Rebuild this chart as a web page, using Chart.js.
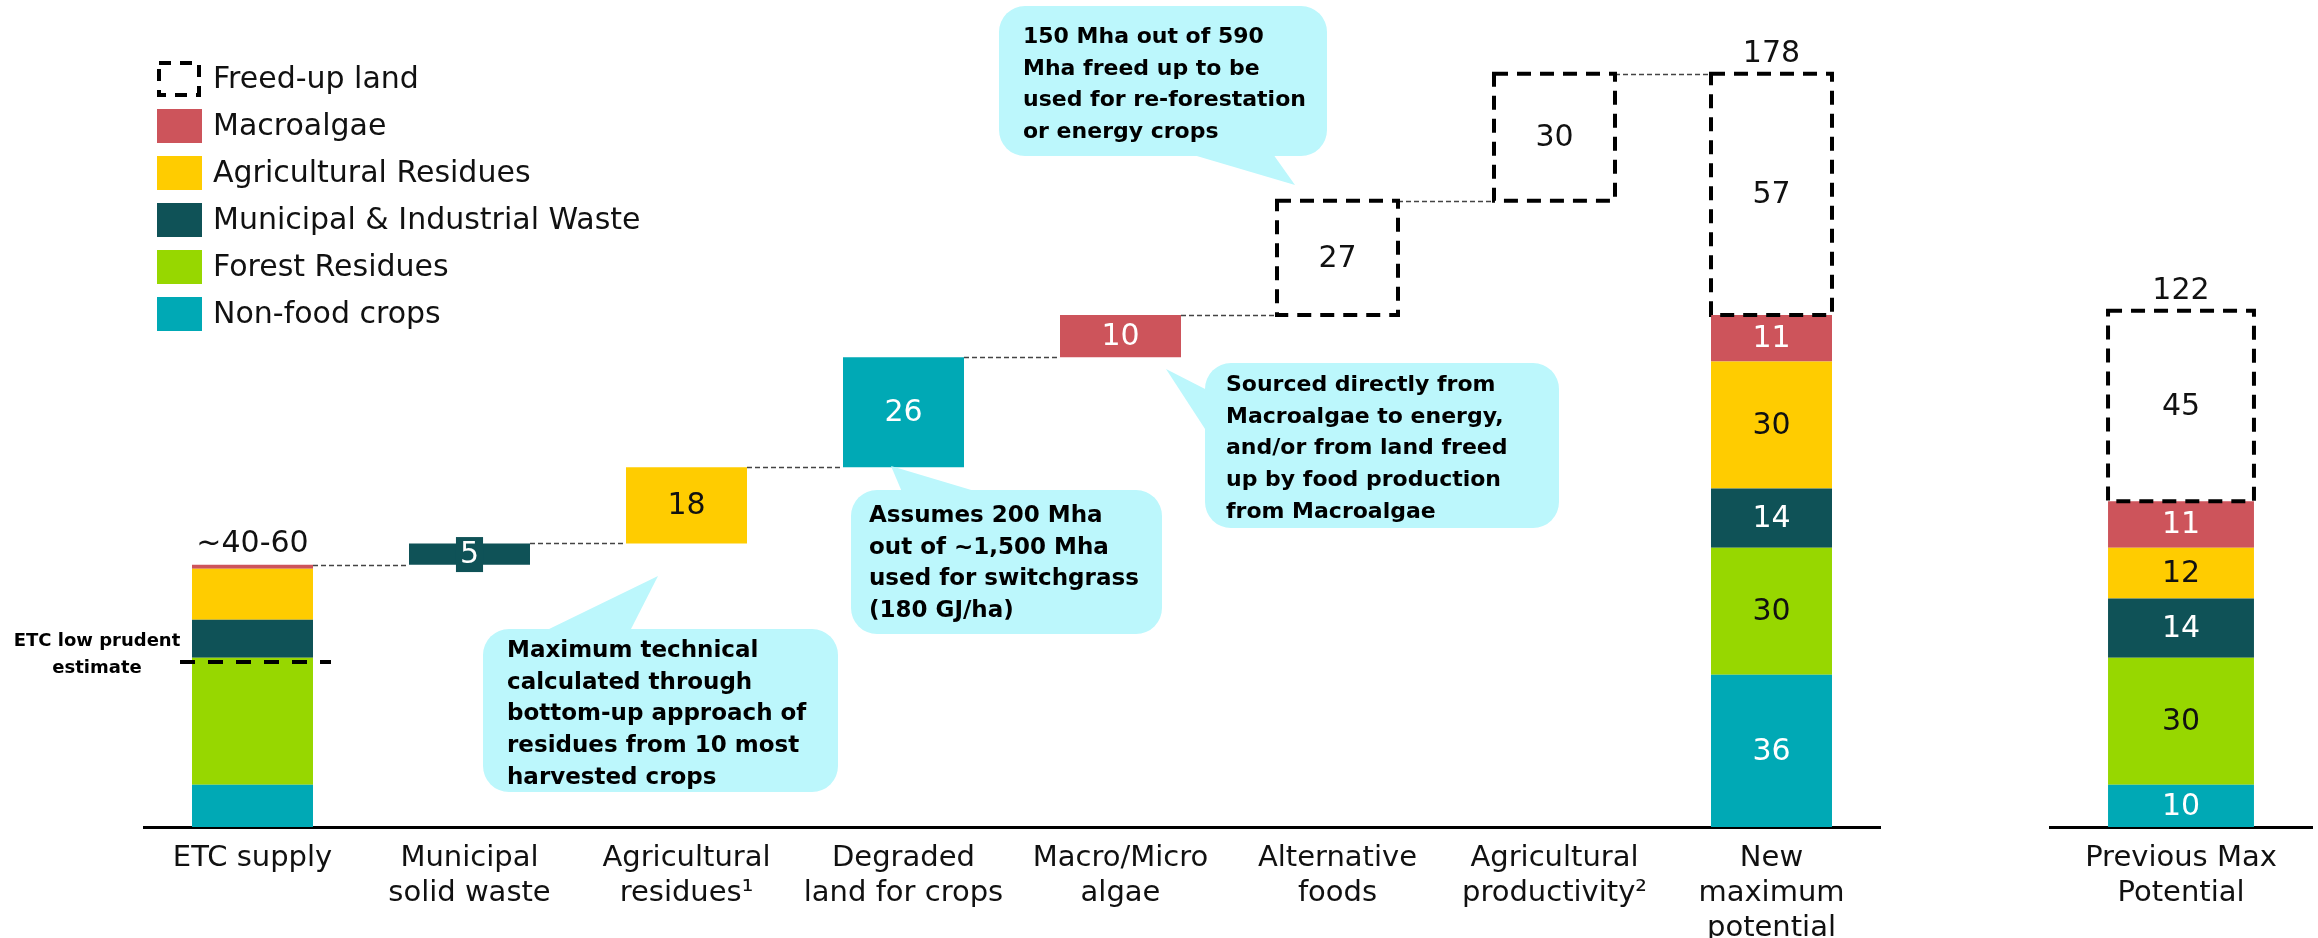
<!DOCTYPE html>
<html>
<head>
<meta charset="utf-8">
<script src="https://cdn.jsdelivr.net/npm/chart.js@4.4.1/dist/chart.umd.min.js"></script>
<style>
  html, body { margin: 0; padding: 0; background: #fff; }
  #wrap { position: relative; width: 2318px; height: 938px; overflow: hidden; }
  #main { position: absolute; left: 0; top: 0; }
  #prev { position: absolute; left: 1960px; top: 0; }
</style>
</head>
<body>
<div id="wrap">
  <canvas id="main" width="1960" height="938"></canvas>
  <canvas id="prev" width="358" height="938"></canvas>
</div>
<script>
// ---- data (EJ/yr) ----
const categories = [
  ['ETC supply'],
  ['Municipal', 'solid waste'],
  ['Agricultural', 'residues\u00B9'],
  ['Degraded', 'land for crops'],
  ['Macro/Micro', 'algae'],
  ['Alternative', 'foods'],
  ['Agricultural', 'productivity\u00B2'],
  ['New', 'maximum', 'potential']
];
const isTotal = [true, false, false, false, false, false, false, true];
const showValues = [false, true, true, true, true, true, true, true];

const nonFoodCrops   = [10, 0, 0, 26, 0, 0, 0, 36];
const forestResidues = [30, 0, 0, 0, 0, 0, 0, 30];
const municipalWaste = [9, 5, 0, 0, 0, 0, 0, 14];
const agriResidues   = [12, 0, 18, 0, 0, 0, 0, 30];
const macroalgae     = [1, 0, 0, 0, 10, 0, 0, 11];
const freedUpLand    = [0, 0, 0, 0, 0, 27, 30, 57];

const prevCategories = [['Previous Max', 'Potential']];
const prevNonFood   = [10];
const prevForest    = [30];
const prevMunicipal = [14];
const prevAgri      = [12];
const prevMacro     = [11];
const prevFreed     = [45];

const etcRangeLabel = '~40-60';
const etcLowEstimate = 39;

// ---- styles ----
const FONT = '"DejaVu Sans", sans-serif';
const series = [
  { name: 'Non-food crops', color: '#00A9B5', text: '#fff' },
  { name: 'Forest Residues', color: '#97D700', text: '#111' },
  { name: 'Municipal & Industrial Waste', color: '#0F5257', text: '#fff' },
  { name: 'Agricultural Residues', color: '#FFCC00', text: '#111' },
  { name: 'Macroalgae', color: '#CD545B', text: '#fff' },
  { name: 'Freed-up land', color: 'rgba(0,0,0,0)', text: '#111', dashed: true }
];

// stacked totals start at zero, steps float on the running total
function buildRanges(list, totals) {
  const out = list.map(() => []);
  const tops = [];
  let running = 0;
  for (let i = 0; i < list[0].length; i++) {
    let level = totals[i] ? 0 : running;
    list.forEach((vals, k) => {
      if (vals[i]) { out[k].push([level, level + vals[i]]); level += vals[i]; }
      else out[k].push(null);
    });
    running = level;
    tops.push(level);
  }
  return { ranges: out, tops: tops };
}

const mainBuilt = buildRanges(
  [nonFoodCrops, forestResidues, municipalWaste, agriResidues, macroalgae, freedUpLand], isTotal);
const prevBuilt = buildRanges(
  [prevNonFood, prevForest, prevMunicipal, prevAgri, prevMacro, prevFreed], [true]);

function datasetsFrom(ranges) {
  return ranges.map((d, k) => ({
    label: series[k].name,
    data: d,
    backgroundColor: series[k].color,
    borderWidth: 0,
    textColor: series[k].text,
    dashed: !!series[k].dashed
  }));
}

const callouts = [
  { box: [483, 629, 355, 163], tail: [[545, 631], [658, 576], [630, 631]], tx: 507, ty: 657, size: 23,
    lines: ['Maximum technical', 'calculated through', 'bottom-up approach of', 'residues from 10 most', 'harvested crops'] },
  { box: [851, 490, 311, 144], tail: [[902, 492], [891, 466], [978, 492]], tx: 869, ty: 522, size: 23,
    lines: ['Assumes 200 Mha', 'out of ~1,500 Mha', 'used for switchgrass', '(180 GJ/ha)'] },
  { box: [1205, 363, 354, 165], tail: [[1207, 390], [1166, 369], [1207, 432]], tx: 1226, ty: 391, size: 22,
    lines: ['Sourced directly from', 'Macroalgae to energy,', 'and/or from land freed', 'up by food production', 'from Macroalgae'] },
  { box: [999, 6, 328, 150], tail: [[1190, 154], [1295, 185], [1273, 154]], tx: 1023, ty: 43, size: 22,
    lines: ['150 Mha out of 590', 'Mha freed up to be', 'used for re-forestation', 'or energy crops'] }
];

function roundRect(ctx, x, y, w, h, r) {
  ctx.beginPath();
  ctx.moveTo(x + r, y);
  ctx.arcTo(x + w, y, x + w, y + h, r);
  ctx.arcTo(x + w, y + h, x, y + h, r);
  ctx.arcTo(x, y + h, x, y, r);
  ctx.arcTo(x, y, x + w, y, r);
  ctx.closePath();
}

const marksPlugin = {
  id: 'marks',
  afterDatasetsDraw(chart) {
    const o = chart.options.plugins.marks;
    const ctx = chart.ctx;
    const xs = chart.scales.x, ys = chart.scales.y;
    ctx.save();
    // connectors between steps
    if (o.connect) {
      const half = chart.getDatasetMeta(0).data[0].width / 2;
      ctx.strokeStyle = '#444';
      ctx.lineWidth = 1.5;
      ctx.setLineDash([5, 3]);
      for (let i = 0; i < o.tops.length - 1; i++) {
        const yy = Math.round(ys.getPixelForValue(o.tops[i])) + 0.5;
        ctx.beginPath();
        ctx.moveTo(xs.getPixelForValue(i) + half, yy);
        ctx.lineTo(xs.getPixelForValue(i + 1) - half, yy);
        ctx.stroke();
      }
      ctx.setLineDash([]);
    }
    // value labels and dashed outlines
    chart.data.datasets.forEach((ds, di) => {
      const meta = chart.getDatasetMeta(di);
      meta.data.forEach((el, i) => {
        const raw = ds.data[i];
        if (!raw) return;
        const p = el.getProps(['x', 'y', 'base', 'width'], true);
        if (ds.dashed) {
          ctx.strokeStyle = '#000';
          ctx.lineWidth = 4;
          ctx.setLineDash([14, 9]);
          ctx.strokeRect(p.x - p.width / 2, p.y, p.width, p.base - p.y);
          ctx.setLineDash([]);
        }
        if (!o.showValues[i]) return;
        const txt = String(raw[1] - raw[0]);
        const cy = (p.y + p.base) / 2;
        ctx.font = '30px ' + FONT;
        ctx.textAlign = 'center';
        ctx.textBaseline = 'middle';
        const h = p.base - p.y;
        if (h < 32) {
          const tw = ctx.measureText(txt).width + 8;
          ctx.fillStyle = ds.backgroundColor;
          ctx.fillRect(p.x - tw / 2, cy - 17, tw, 35);
        }
        ctx.fillStyle = ds.textColor;
        ctx.fillText(txt, p.x, cy + 1);
      });
    });
    // totals above stacked columns
    ctx.font = '30px ' + FONT;
    ctx.fillStyle = '#111';
    ctx.textAlign = 'center';
    ctx.textBaseline = 'middle';
    o.totalLabels.forEach((lab, i) => {
      if (!lab) return;
      const top = ys.getPixelForValue(o.tops[i]);
      ctx.fillText(lab, xs.getPixelForValue(i), top - 20);
    });
    ctx.restore();
  }
};

const notesPlugin = {
  id: 'notes',
  afterDraw(chart) {
    const ctx = chart.ctx;
    ctx.save();
    // legend
    const legendOrder = [5, 4, 3, 2, 1, 0];
    legendOrder.forEach((k, n) => {
      const cy = 79 + n * 47;
      if (series[k].dashed) {
        ctx.strokeStyle = '#000';
        ctx.lineWidth = 4;
        ctx.setLineDash([12, 9]);
        ctx.strokeRect(159, cy - 16, 40, 32);
        ctx.setLineDash([]);
      } else {
        ctx.fillStyle = series[k].color;
        ctx.fillRect(157, cy - 17, 45, 34);
      }
      ctx.fillStyle = '#111';
      ctx.font = '30px ' + FONT;
      ctx.textAlign = 'left';
      ctx.textBaseline = 'middle';
      ctx.fillText(series[k].name, 213, cy + 1);
    });
    // ETC low prudent estimate
    const xs = chart.scales.x, ys = chart.scales.y;
    const el = chart.getDatasetMeta(0).data[0];
    const yy = ys.getPixelForValue(etcLowEstimate);
    ctx.strokeStyle = '#000';
    ctx.lineWidth = 4;
    ctx.setLineDash([15, 13]);
    ctx.beginPath();
    ctx.moveTo(xs.getPixelForValue(0) - el.width / 2 - 12, yy);
    ctx.lineTo(xs.getPixelForValue(0) + el.width / 2 + 18, yy);
    ctx.stroke();
    ctx.setLineDash([]);
    ctx.fillStyle = '#000';
    ctx.font = 'bold 18px ' + FONT;
    ctx.textAlign = 'center';
    ctx.textBaseline = 'middle';
    ctx.fillText('ETC low prudent', 97, 641);
    ctx.fillText('estimate', 97, 668);
    // callouts
    callouts.forEach(c => {
      ctx.fillStyle = '#BCF7FC';
      roundRect(ctx, c.box[0], c.box[1], c.box[2], c.box[3], 26);
      ctx.fill();
      ctx.beginPath();
      ctx.moveTo(c.tail[0][0], c.tail[0][1]);
      ctx.lineTo(c.tail[1][0], c.tail[1][1]);
      ctx.lineTo(c.tail[2][0], c.tail[2][1]);
      ctx.closePath();
      ctx.fill();
      ctx.fillStyle = '#000';
      ctx.font = 'bold ' + c.size + 'px ' + FONT;
      ctx.textAlign = 'left';
      ctx.textBaseline = 'alphabetic';
      c.lines.forEach((ln, j) => ctx.fillText(ln, c.tx, c.ty + j * 31.7));
    });
    ctx.restore();
  }
};

function baseOptions(pad, labels, tops, totals, connect) {
  return {
    responsive: false,
    animation: false,
    layout: { padding: pad },
    plugins: {
      legend: { display: false },
      tooltip: { enabled: false },
      marks: { showValues: labels, tops: tops, totalLabels: totals, connect: connect }
    },
    scales: {
      x: {
        stacked: true,
        grid: { display: false, drawTicks: false },
        border: { display: true, color: '#000', width: 3 },
        ticks: { color: '#111', font: { family: FONT, size: 29, lineHeight: 1.2 }, padding: 14,
                 maxRotation: 0, autoSkip: false },
        afterFit: s => { s.height = 111; }
      },
      y: { stacked: false, min: 0, max: 190, display: false }
    }
  };
}

const mainTotals = isTotal.map((t, i) => !t ? null : (i === 0 ? etcRangeLabel : String(mainBuilt.tops[i])));

new Chart(document.getElementById('main'), {
  type: 'bar',
  data: { labels: categories, datasets: datasetsFrom(mainBuilt.ranges) },
  options: Object.assign(baseOptions({ left: 144, right: 80, top: 23, bottom: 0 }, showValues, mainBuilt.tops, mainTotals, true), {
    datasets: { bar: { barPercentage: 0.5576, categoryPercentage: 1 } }
  }),
  plugins: [marksPlugin, notesPlugin]
});

new Chart(document.getElementById('prev'), {
  type: 'bar',
  data: { labels: prevCategories, datasets: datasetsFrom(prevBuilt.ranges) },
  options: Object.assign(baseOptions({ left: 90, right: 6, top: 23, bottom: 0 }, [true], prevBuilt.tops, [String(prevBuilt.tops[0])], false), {
    datasets: { bar: { barPercentage: 0.557, categoryPercentage: 1 } }
  }),
  plugins: [marksPlugin]
});
</script>
</body>
</html>
